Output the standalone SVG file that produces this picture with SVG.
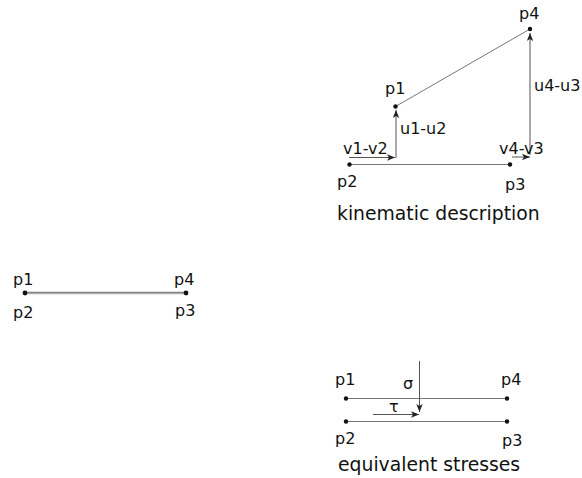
<svg xmlns="http://www.w3.org/2000/svg" width="582" height="478" viewBox="0 0 582 478">
<defs>
<marker id="ah" viewBox="0 0 10 8" refX="10" refY="4" markerWidth="8" markerHeight="6.4" markerUnits="userSpaceOnUse" orient="auto">
<path d="M0,0 L10,4 L0,8 L2.5,4 Z" fill="#222"/>
</marker>
<style>
text{font-family:"DejaVu Sans","Liberation Sans",sans-serif;font-size:16px;fill:#111}
text.title{font-size:18.8px}
.ln{stroke:#777;stroke-width:1;fill:none}
.ar{stroke:#555;stroke-width:1;fill:none;marker-end:url(#ah)}
.dot{fill:#111}
</style>
</defs>
<rect width="582" height="478" fill="#fff"/>
<g id="connectors">
<line class="ln" x1="349.5" y1="164.5" x2="510" y2="164.5"/>
<line class="ln" x1="395.5" y1="106.5" x2="530" y2="29"/>
<line class="ar" x1="396" y1="158" x2="396" y2="110"/>
<line class="ar" x1="349" y1="157.5" x2="395" y2="157.5"/>
<line class="ar" x1="530" y1="155" x2="530" y2="33"/>
<line class="ar" x1="512" y1="157" x2="530" y2="157"/>
<line stroke="#666" stroke-width="1" x1="25" y1="292.3" x2="186" y2="292.3"/>
<line stroke="#999" stroke-width="1" x1="25" y1="293.7" x2="186" y2="293.7"/>
<line class="ln" x1="346" y1="398.5" x2="507" y2="398.5"/>
<line class="ln" x1="346" y1="421.5" x2="507" y2="421.5"/>
<line class="ar" x1="419.5" y1="361" x2="419.5" y2="412"/>
<line class="ar" x1="373" y1="414.5" x2="419" y2="414.5"/>
</g>
<g id="kinematic">
<circle class="dot" cx="349.5" cy="164.5" r="2.2"/>
<circle class="dot" cx="510" cy="164.5" r="2.2"/>
<circle class="dot" cx="395.5" cy="106.5" r="2.2"/>
<circle class="dot" cx="530" cy="29" r="2.2"/>
<text x="519" y="19">p4</text>
<text x="385" y="94">p1</text>
<text x="534" y="91">u4-u3</text>
<text x="400" y="134">u1-u2</text>
<text x="343" y="154">v1-v2</text>
<text x="499" y="154">v4-v3</text>
<text x="337" y="187">p2</text>
<text x="505" y="190">p3</text>
<text class="title" x="337" y="220">kinematic description</text>
</g>
<g id="undeformed">
<circle class="dot" cx="25" cy="293" r="2.4"/>
<circle class="dot" cx="186" cy="293" r="2.4"/>
<text x="13" y="285">p1</text>
<text x="174" y="285">p4</text>
<text x="13" y="318">p2</text>
<text x="175" y="316">p3</text>
</g>
<g id="stresses">
<circle class="dot" cx="346" cy="398.5" r="2.2"/>
<circle class="dot" cx="507" cy="398.5" r="2.2"/>
<circle class="dot" cx="346" cy="421.5" r="2.2"/>
<circle class="dot" cx="507" cy="421.5" r="2.2"/>
<text x="335" y="385">p1</text>
<text x="403" y="389">σ</text>
<text x="501" y="385">p4</text>
<text x="389" y="412">τ</text>
<text x="335" y="444">p2</text>
<text x="502" y="446">p3</text>
<text class="title" x="338" y="471">equivalent stresses</text>
</g>
</svg>
